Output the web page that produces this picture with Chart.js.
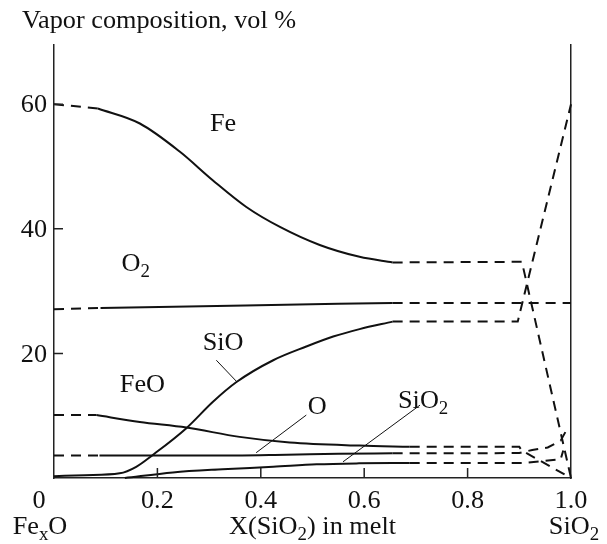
<!DOCTYPE html>
<html>
<head>
<meta charset="utf-8">
<script src="https://cdn.jsdelivr.net/npm/chart.js@4.4.1/dist/chart.umd.min.js"></script>
<style>
  html, body { margin: 0; padding: 0; background: #fff; }
</style>
</head>
<body>
<canvas id="vaporChart" width="607" height="544"></canvas>
<script>
// measured curves (solid parts)
const feX = [0.085, 0.166, 0.243, 0.307, 0.372, 0.437, 0.514, 0.591, 0.655];
const feY = [59.3, 56.9, 52.4, 47.8, 43.5, 40.3, 37.4, 35.5, 34.6];
const o2X = [0.09, 0.37, 0.655];
const o2Y = [27.3, 27.7, 28.1];
const sioX = [0, 0.06, 0.127, 0.159, 0.191, 0.256, 0.307, 0.353, 0.424, 0.488, 0.54, 0.591, 0.655];
const sioY = [0.3, 0.45, 0.75, 1.8, 3.7, 8.0, 12.2, 15.4, 18.9, 21.1, 22.7, 23.9, 25.1];
const feoX = [0.082, 0.166, 0.256, 0.359, 0.456, 0.591, 0.688];
const feoY = [10.1, 9.0, 8.1, 6.6, 5.7, 5.2, 5.0];
const oX = [0.088, 0.3, 0.45, 0.55, 0.655];
const oY = [3.6, 3.6, 3.75, 3.9, 3.96];
const sio2X = [0.137, 0.23, 0.326, 0.424, 0.508, 0.59, 0.688];
const sio2Y = [0.0, 0.9, 1.4, 1.8, 2.2, 2.35, 2.4];

// extrapolated (dashed) parts; a null value breaks the line
const feDashX = [0, 0.085, 0.3, 0.655, 0.905, 1.0];
const feDashY = [60, 59.3, null, 34.6, 34.7, 0];
const o2DashX = [0, 0.09, 0.3, 0.655, 1.0];
const o2DashY = [27.1, 27.3, null, 28.1, 28.1];
const sioDashX = [0.655, 0.897, 1.0];
const sioDashY = [25.1, 25.1, 60];
const feoDashX = [0, 0.082, 0.3, 0.688, 0.9, 0.905, 1.0];
const feoDashY = [10.1, 10.1, null, 5.0, 5.0, 4.4, 0];
const oDashX = [0, 0.088, 0.3, 0.655, 0.9, 0.925, 0.955, 0.98, 0.99];
const oDashY = [3.6, 3.6, null, 3.96, 4.0, 4.5, 4.9, 6.0, 7.5];
const sio2DashX = [0.688, 0.907, 0.98, 0.985];
const sio2DashY = [2.4, 2.4, 3.0, 4.4];

const X_TICKS = [0.2, 0.4, 0.6, 0.8];
const X_LABELS = ["0", "0.2", "0.4", "0.6", "0.8", "1.0"];
const X_LABEL_VALUES = [0, 0.2, 0.4, 0.6, 0.8, 1.0];
const Y_TICKS = [20, 40, 60];
const Y_LABELS = ["20", "40", "60"];

const INK = "#111";
const FONT_SIZE = 25;
const STRETCH = 1.05;

function pts(xs, ys) {
  return xs.map((x, i) => ({ x, y: ys[i] }));
}

function solid(xs, ys) {
  return {
    data: pts(xs, ys),
    borderColor: INK,
    borderWidth: 2,
    pointRadius: 0,
    cubicInterpolationMode: "monotone",
    clip: false,
  };
}

function dashed(xs, ys) {
  return {
    data: pts(xs, ys),
    borderColor: INK,
    borderWidth: 2,
    borderDash: [10, 7],
    pointRadius: 0,
    tension: 0,
    spanGaps: false,
    clip: false,
  };
}

// text with optional subscripts, slightly widened like the printed figure
function richText(ctx, parts, px, py, align) {
  ctx.save();
  ctx.fillStyle = INK;
  ctx.textBaseline = "alphabetic";
  ctx.textAlign = "left";
  const big = `${FONT_SIZE}px "Liberation Serif", "Times New Roman", serif`;
  const small = `${Math.round(FONT_SIZE * 0.7)}px "Liberation Serif", "Times New Roman", serif`;
  let w = 0;
  parts.forEach((p) => {
    ctx.font = p.sub ? small : big;
    w += ctx.measureText(p.t).width;
  });
  w *= STRETCH;
  let start = px;
  if (align === "center") start = px - w / 2;
  if (align === "right") start = px - w;
  ctx.translate(start, py);
  ctx.scale(STRETCH, 1);
  let cx = 0;
  parts.forEach((p) => {
    ctx.font = p.sub ? small : big;
    ctx.fillText(p.t, cx, p.sub ? 6 : 0);
    cx += ctx.measureText(p.t).width;
  });
  ctx.restore();
}

const T = (t) => ({ t });
const S = (t) => ({ t, sub: true });

// curve names placed in data space; leader lines go from label to curve
const curveLabels = [
  { parts: [T("Fe")], x: 0.327, y: 57.1 },
  { parts: [T("O"), S("2")], x: 0.158, y: 34.5 },
  { parts: [T("SiO")], x: 0.327, y: 21.9 },
  { parts: [T("FeO")], x: 0.171, y: 15.2 },
  { parts: [T("O")], x: 0.509, y: 11.55 },
  { parts: [T("SiO"), S("2")], x: 0.714, y: 12.5 },
];
const leaders = [
  [0.314, 18.9, 0.353, 15.5],
  [0.488, 10.1, 0.391, 4.06],
  [0.708, 11.7, 0.559, 2.6],
];

const annotate = {
  id: "annotate",
  afterDraw(chart) {
    const { ctx, chartArea: area, scales } = chart;
    const xs = scales.x;
    const ys = scales.y;

    // inward tick marks
    ctx.save();
    ctx.strokeStyle = "#222";
    ctx.lineWidth = 1.5;
    ctx.beginPath();
    Y_TICKS.forEach((v) => {
      const py = ys.getPixelForValue(v);
      ctx.moveTo(area.left, py);
      ctx.lineTo(area.left + 9, py);
    });
    X_TICKS.forEach((v) => {
      const px = xs.getPixelForValue(v);
      ctx.moveTo(px, area.bottom);
      ctx.lineTo(px, area.bottom - 10);
    });
    ctx.stroke();

    // leader lines
    ctx.strokeStyle = INK;
    ctx.lineWidth = 1;
    ctx.beginPath();
    leaders.forEach(([x0, y0, x1, y1]) => {
      ctx.moveTo(xs.getPixelForValue(x0), ys.getPixelForValue(y0));
      ctx.lineTo(xs.getPixelForValue(x1), ys.getPixelForValue(y1));
    });
    ctx.stroke();
    ctx.restore();

    const capHalf = FONT_SIZE * 0.33;

    Y_TICKS.forEach((v, i) => {
      richText(ctx, [T(Y_LABELS[i])], area.left - 7, ys.getPixelForValue(v) + capHalf, "right");
    });
    X_LABEL_VALUES.forEach((v, i) => {
      let px = xs.getPixelForValue(v);
      if (v === 0) px -= 15;
      richText(ctx, [T(X_LABELS[i])], px, area.bottom + 30, "center");
    });

    richText(ctx, [T("Fe"), S("x"), T("O")], xs.getPixelForValue(0) - 14, area.bottom + 56, "center");
    richText(ctx, [T("X(SiO"), S("2"), T(") in melt")], xs.getPixelForValue(0.5), area.bottom + 56, "center");
    richText(ctx, [T("SiO"), S("2")], xs.getPixelForValue(1) + 3, area.bottom + 56, "center");

    richText(ctx, [T("Vapor composition, vol %")], 22, 28, "left");

    curveLabels.forEach((l) => {
      richText(ctx, l.parts, xs.getPixelForValue(l.x), ys.getPixelForValue(l.y) + capHalf, "center");
    });
  },
};

const hiddenAxis = (pos, min, max) => ({
  type: "linear",
  position: pos,
  min,
  max,
  ticks: { display: false },
  grid: { display: false, drawTicks: false },
  border: { display: true, color: "#222", width: 1.5 },
});

new Chart(document.getElementById("vaporChart").getContext("2d"), {
  type: "line",
  data: {
    datasets: [
      solid(feX, feY), dashed(feDashX, feDashY),
      solid(o2X, o2Y), dashed(o2DashX, o2DashY),
      solid(sioX, sioY), dashed(sioDashX, sioDashY),
      solid(feoX, feoY), dashed(feoDashX, feoDashY),
      solid(oX, oY), dashed(oDashX, oDashY),
      solid(sio2X, sio2Y), dashed(sio2DashX, sio2DashY),
    ],
  },
  options: {
    responsive: false,
    animation: false,
    devicePixelRatio: 1,
    layout: { padding: { left: 54, right: 36, top: 45, bottom: 66 } },
    scales: {
      x: hiddenAxis("bottom", 0, 1),
      y: hiddenAxis("left", 0, 69.5),
      y2: hiddenAxis("right", 0, 69.5),
    },
    plugins: {
      legend: { display: false },
      tooltip: { enabled: false },
    },
  },
  plugins: [annotate],
});
</script>
</body>
</html>
